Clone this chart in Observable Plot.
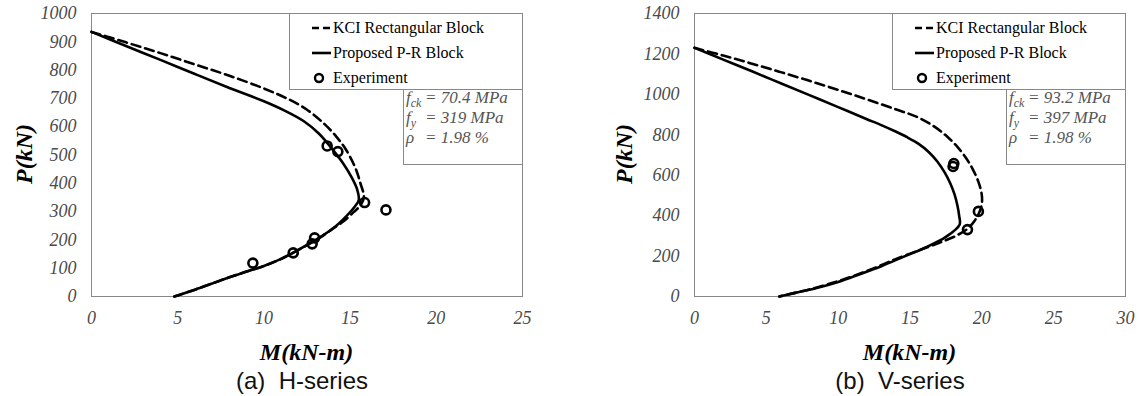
<!DOCTYPE html>
<html><head><meta charset="utf-8">
<script src="https://cdn.jsdelivr.net/npm/d3@7"></script>
<script src="https://cdn.jsdelivr.net/npm/@observablehq/plot@0.6"></script>
<style>
html,body{margin:0;padding:0;background:#fff}
body{width:1139px;height:396px;position:relative;overflow:hidden;font-family:"Liberation Serif","Times New Roman",Times,Tinos,"DejaVu Serif","Noto Serif",serif}
.panel{position:absolute;top:0}
.t{position:absolute;white-space:nowrap;line-height:1;transform:translate(-50%,-50%)}
.ytitle{font-style:italic;font-weight:bold;font-size:24px;color:#000;transform:translate(-50%,-50%) rotate(-90deg)}
.xtitle{font-style:italic;font-weight:bold;font-size:24px;color:#000}
.cap{font:24px "Liberation Sans",Arial,sans-serif;color:#111}
.legend{position:absolute;border:1px solid #888;background:#fff;box-sizing:border-box}
.li{position:absolute;height:22px;display:flex;align-items:center;font-size:16px;color:#000;white-space:nowrap}
.li svg{margin-right:2px}
.anno{position:absolute;border:1px solid #888;background:#fff;box-sizing:border-box;font-style:italic;font-size:17px;color:#555}
.al{position:absolute;left:2px;white-space:nowrap;line-height:20px;height:20px}
.al .lab{display:inline-block;width:19px}
.al sub{font-size:12px;vertical-align:baseline;position:relative;top:4px}
</style>
</head><body>
<script>
// ---------- data ----------
// H-series (a)
const hXTicks = [0, 5, 10, 15, 20, 25];
const hYTicks = [0, 100, 200, 300, 400, 500, 600, 700, 800, 900, 1000];
const hKCI = [[0,935],[2,898],[4,860],[6,820],[8,780],[10,735],[11.5,695],[12.5,660],[13.5,610],[14.2,565],[14.8,515],[15.3,455],[15.6,400],[15.8,350],[15.6,322],[15.2,298],[14.6,265],[14.0,240],[13.3,210],[12,165],[11,133],[10,108],[9,88],[8,68],[7,46],[6,24],[4.8,0]];
const hPR = [[0,935],[2,885],[4,836],[6,786],[8,737],[10,690],[11.2,657],[12.3,620],[13.2,575],[14.0,518],[14.6,470],[15.1,420],[15.4,380],[15.5,340],[15.3,320],[14.8,285],[14,240],[13,200],[12,165],[11,133],[10,108],[9,88],[8,68],[7,46],[6,24],[4.8,0]];
const hExp = [[9.36,118],[11.7,154],[12.8,186],[12.94,207],[15.84,332],[17.08,306],[13.67,532],[14.29,512]];
const hProps = ["70.4 MPa", "319 MPa", "1.98 %"];
// V-series (b)
const vXTicks = [0, 5, 10, 15, 20, 25, 30];
const vYTicks = [0, 200, 400, 600, 800, 1000, 1200, 1400];
const vKCI = [[0,1230],[2,1192],[4,1152],[6,1110],[8,1067],[10,1022],[12,975],[14,926],[15.5,888],[16.7,840],[17.6,790],[18.3,740],[18.9,685],[19.4,625],[19.8,560],[20.0,500],[20.0,460],[19.85,420],[19.5,375],[19.0,335],[18.2,300],[17.0,265],[15.5,225],[14,185],[12.5,140],[11,100],[9.5,65],[8,35],[7,18],[5.9,0]];
const vPR = [[0,1230],[2,1172],[4,1114],[6,1055],[8,996],[10,937],[12,877],[13,848],[14,816],[14.8,788],[15.6,755],[16.3,715],[16.9,668],[17.4,615],[17.8,560],[18.1,505],[18.3,450],[18.42,400],[18.45,355],[17.5,295],[16,240],[14.5,195],[13,150],[11.5,110],[10,72],[8.5,42],[7,18],[5.9,0]];
const vExp = [[18.05,658],[18.0,643],[19.76,421],[19.0,331]];
const vProps = ["93.2 MPa", "397 MPa", "1.98 %"];
// shared text
const legendLabels = ["KCI Rectangular Block", "Proposed P-R Block", "Experiment"];
const propLabels = [["f","ck"], ["f","y"], ["\u03c1",""]];
const xTitle = "M(kN-m)";
const yTitle = "P(kN)";
const captions = ["(a)\u00a0\u00a0H-series", "(b)\u00a0\u00a0V-series"];

// ---------- drawing ----------
const SERIF = '"Liberation Serif","Times New Roman",Times,Tinos,"DejaVu Serif","Noto Serif",serif';
function panel(cfg) {
  const p = Plot.plot({
    width: cfg.width, height: 370,
    marginLeft: cfg.ml, marginRight: cfg.mr, marginTop: 13, marginBottom: 74,
    style: {fontFamily: SERIF, fontSize: "18px", fontStyle: "italic", color: "#4a4a4a", background: "transparent", overflow: "visible"},
    x: {domain: cfg.xd, ticks: cfg.xt, tickSize: 0, tickPadding: 15, label: null, tickFormat: d => String(d)},
    y: {domain: cfg.yd, ticks: cfg.yt, tickSize: 0, tickPadding: 15, label: null, tickFormat: d => String(d)},
    marks: [
      Plot.frame({stroke: "#888", strokeWidth: 1}),
      Plot.line(cfg.kci, {x: d => d[0], y: d => d[1], stroke: "#000", strokeWidth: 2.6, strokeDasharray: "9,5", curve: "catmull-rom"}),
      Plot.line(cfg.pr, {x: d => d[0], y: d => d[1], stroke: "#000", strokeWidth: 2.6, curve: "catmull-rom"}),
      Plot.dot(cfg.exp, {x: d => d[0], y: d => d[1], r: 4.5, stroke: "#000", strokeWidth: 2.6, fill: "none"})
    ]
  });
  p.style.fontFamily = SERIF;
  const wrap = document.createElement("div");
  wrap.className = "panel";
  wrap.style.left = cfg.left + "px";
  wrap.appendChild(p);
  document.body.appendChild(wrap);

  const L = cfg.left, x0 = L + cfg.ml, x1 = L + cfg.width - cfg.mr;
  const add = (cls, txt, x, y) => {
    const d = document.createElement("div");
    d.className = "t " + cls; d.textContent = txt;
    d.style.left = x + "px"; d.style.top = y + "px";
    document.body.appendChild(d);
  };
  add("ytitle", yTitle, L + cfg.yTitleX, 154);
  add("xtitle", xTitle, (x0 + x1) / 2, 352);
  add("cap", cfg.caption, L + cfg.capX, 381);

  // legend
  const lg = document.createElement("div");
  lg.className = "legend";
  const lw = 233;
  lg.style.left = (x1 - lw) + "px"; lg.style.top = "13px";
  lg.style.width = (lw + 1) + "px"; lg.style.height = "77px";
  const rows = [3, 28, 53];
  legendLabels.forEach((lab, i) => {
    const r = document.createElement("div");
    r.className = "li"; r.style.top = rows[i] + "px"; r.style.left = "22px";
    let sym;
    if (i === 0) sym = '<svg width="19" height="10"><line x1="0" x2="19" y1="5" y2="5" stroke="#000" stroke-width="2.6" stroke-dasharray="7,4"/></svg>';
    else if (i === 1) sym = '<svg width="19" height="10"><line x1="0" x2="19" y1="5" y2="5" stroke="#000" stroke-width="2.6"/></svg>';
    else sym = '<svg width="19" height="12"><circle cx="7" cy="6" r="4" fill="none" stroke="#000" stroke-width="2.4"/></svg>';
    r.innerHTML = sym + '<span>' + lab + '</span>';
    lg.appendChild(r);
  });
  document.body.appendChild(lg);

  // property box
  const an = document.createElement("div");
  an.className = "anno";
  const aw = 119;
  an.style.left = (x1 - aw) + "px"; an.style.top = "89px";
  an.style.width = (aw + 1) + "px"; an.style.height = "76px";
  cfg.props.forEach((v, i) => {
    const r = document.createElement("div");
    r.className = "al"; r.style.top = (-2 + i * 20) + "px";
    const [sym, sub] = propLabels[i];
    r.innerHTML = '<span class="lab">' + sym + (sub ? '<sub>' + sub + '</sub>' : '') + '</span>= ' + v;
    an.appendChild(r);
  });
  document.body.appendChild(an);
}

panel({left: 0, width: 570, ml: 91, mr: 48, xd: [0, 25], yd: [0, 1000], xt: hXTicks, yt: hYTicks,
  kci: hKCI, pr: hPR, exp: hExp, props: hProps, caption: captions[0], yTitleX: 24, capX: 302});
panel({left: 570, width: 569, ml: 124, mr: 14, xd: [0, 30], yd: [0, 1400], xt: vXTicks, yt: vYTicks,
  kci: vKCI, pr: vPR, exp: vExp, props: vProps, caption: captions[1], yTitleX: 54, capX: 330});
</script>
</body></html>
